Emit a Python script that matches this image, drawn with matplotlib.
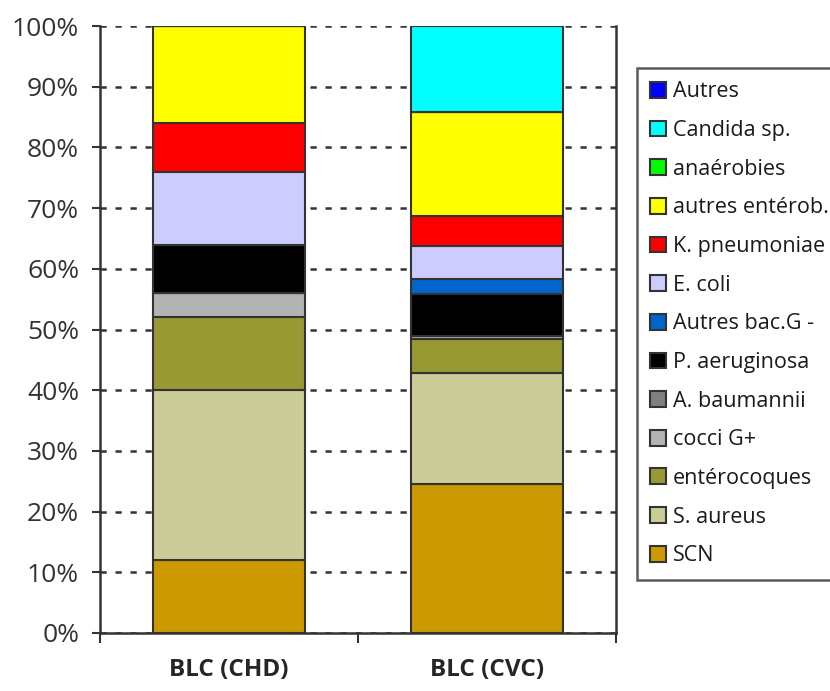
import matplotlib
matplotlib.use("Agg")
import matplotlib.pyplot as plt
import matplotlib.patches as mpatches
import numpy as np

plt.rcParams['font.family'] = ['Open Sans', 'DejaVu Sans']

categories = ['BLC (CHD)', 'BLC (CVC)']

# pourcentages empilés, du bas vers le haut
especes = ['SCN', 'S. aureus', 'entérocoques', 'cocci G+', 'A. baumannii',
           'P. aeruginosa', 'Autres bac.G -', 'E. coli', 'K. pneumoniae',
           'autres entérob.', 'anaérobies', 'Candida sp.', 'Autres']
chd = [12.0, 28.0, 12.0, 4.0, 0.0, 8.0, 0.0, 12.0, 8.0, 16.0, 0.0, 0.0, 0.0]
cvc = [24.5, 18.4, 5.5, 0.6, 0.0, 6.8, 2.5, 5.4, 5.0, 17.2, 0.0, 14.1, 0.0]
couleurs = ['#CC9900', '#CCCC99', '#999933', '#B3B3B3', '#808080',
            '#000000', '#0066CC', '#CCCCFF', '#FF0000',
            '#FFFF00', '#00FF00', '#00FFFF', '#0000FF']

edge = '#333333'
fig = plt.figure(figsize=(8.30, 6.91), dpi=100)
ax = fig.add_axes([100 / 830, 1 - 633 / 691, 516 / 830, 607 / 691])

x = np.arange(len(categories))
bas = np.zeros(len(categories))
for nom, v1, v2, c in zip(especes, chd, cvc, couleurs):
    vals = np.array([v1, v2])
    ax.bar(x, vals, width=0.59, bottom=bas, color=c, edgecolor=edge,
           linewidth=1.5, zorder=3, label=nom)
    bas += vals

ax.set_xlim(-0.5, 1.5)
ax.set_ylim(0, 100)
ax.set_yticks(np.arange(0, 101, 10))
ax.set_yticklabels([f'{v}%' for v in range(0, 101, 10)])
ax.set_xticks([-0.5, 0.5, 1.5])
ax.set_xticklabels([])
ax.set_xticks(x, minor=True)
ax.set_xticklabels(categories, minor=True, fontweight='bold', fontsize=17.5,
                   color='#262626')
ax.tick_params(axis='x', which='minor', length=0, pad=18)
ax.tick_params(axis='x', which='major', direction='out', length=7, width=1.5,
               color=edge)
ax.tick_params(axis='y', direction='out', length=6, width=1.5, color=edge,
               labelsize=19, labelcolor='#333333', pad=9)

ax.yaxis.grid(True, linestyle=(0, (2.5, 3.5)), color=edge, linewidth=1.8,
              zorder=0)
ax.set_axisbelow(True)
for s in ['left', 'bottom', 'right']:
    ax.spines[s].set_color(edge)
    ax.spines[s].set_linewidth(1.8)
ax.spines['top'].set_visible(False)

handles = [mpatches.Patch(facecolor=c, edgecolor=edge, linewidth=1.5, label=n)
           for n, c in zip(especes, couleurs)][::-1]
leg = fig.legend(handles=handles, loc='upper left',
                 bbox_to_anchor=(637 / 830, 1 - 68 / 691), borderaxespad=0,
                 frameon=True, fancybox=False, edgecolor=edge, fontsize=15.5,
                 handlelength=0.75, handleheight=0.75, handletextpad=0.3,
                 labelspacing=0.82, borderpad=0.62)
leg.get_frame().set_linewidth(1.8)
for t in leg.get_texts():
    t.set_color('#1a1a1a')

fig.savefig('out.png', dpi=100)
